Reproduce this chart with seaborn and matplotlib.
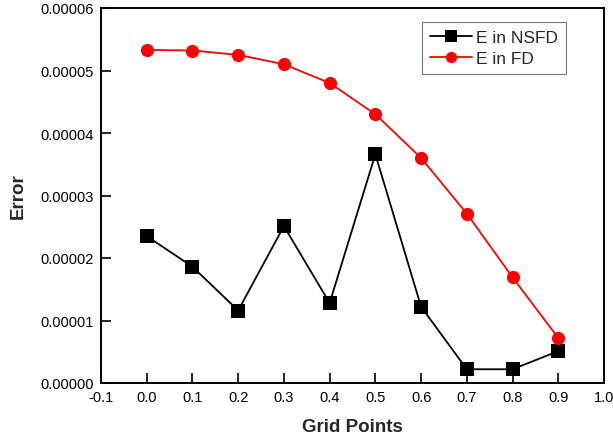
import matplotlib
matplotlib.use("Agg")
import matplotlib.pyplot as plt
import seaborn as sns
import pandas as pd

grid_points = [0.0, 0.1, 0.2, 0.3, 0.4, 0.5, 0.6, 0.7, 0.8, 0.9]
err_nsfd = [2.35e-5, 1.86e-5, 1.16e-5, 2.51e-5, 1.28e-5, 3.66e-5, 1.22e-5, 0.22e-5, 0.22e-5, 0.51e-5]
err_fd = [5.33e-5, 5.32e-5, 5.25e-5, 5.10e-5, 4.80e-5, 4.30e-5, 3.60e-5, 2.71e-5, 1.69e-5, 0.72e-5]
series_names = ["E in NSFD", "E in FD"]
x_ticks = [-0.1, 0.0, 0.1, 0.2, 0.3, 0.4, 0.5, 0.6, 0.7, 0.8, 0.9, 1.0]
y_ticks = [0.0, 1e-5, 2e-5, 3e-5, 4e-5, 5e-5, 6e-5]

df = pd.DataFrame({
    "x": grid_points * 2,
    "err": err_nsfd + err_fd,
    "series": [series_names[0]] * len(grid_points) + [series_names[1]] * len(grid_points),
})

sns.set_theme(style="ticks")
plt.rcParams["font.family"] = ["Liberation Sans", "DejaVu Sans"]

fig = plt.figure(figsize=(6.13, 4.39), dpi=100)
ax = fig.add_axes([101 / 613, 1 - 384 / 439, (604 - 101) / 613, (384 - 9) / 439])

sns.lineplot(
    data=df, x="x", y="err", hue="series", style="series",
    palette={series_names[0]: "black", series_names[1]: "#ff0000"},
    markers={series_names[0]: "s", series_names[1]: "o"},
    dashes=False, markersize=9.5, markeredgewidth=0, linewidth=1.3, ax=ax,
)

ax.set_xlim(-0.1, 1.0)
ax.set_ylim(0, 6e-5)
ax.set_xticks(x_ticks)
ax.set_xticklabels([f"{t:.1f}" for t in x_ticks])
ax.set_yticks(y_ticks)
ax.set_yticklabels([f"{t:.5f}" for t in y_ticks])
ax.tick_params(direction="in", length=7, width=1.2, labelsize=10.5, colors="black", pad=5)
for s in ax.spines.values():
    s.set_linewidth(1.4)
    s.set_color("black")
    s.set_visible(True)

ax.set_xlabel("Grid Points", fontsize=13.5, fontweight="bold", labelpad=10)
ax.set_ylabel("Error", fontsize=13.5, fontweight="bold", labelpad=10)

leg = ax.legend(loc="upper right", bbox_to_anchor=(0.924, 0.963), borderaxespad=0,
                fontsize=12.5, frameon=True, fancybox=False, handlelength=2.4,
                borderpad=0.45, labelspacing=0.35, handletextpad=0.25, markerscale=0.85)
leg.get_frame().set_edgecolor("#555555")
leg.get_frame().set_linewidth(0.8)
leg.set_title(None)

fig.savefig("out.png", dpi=100)
